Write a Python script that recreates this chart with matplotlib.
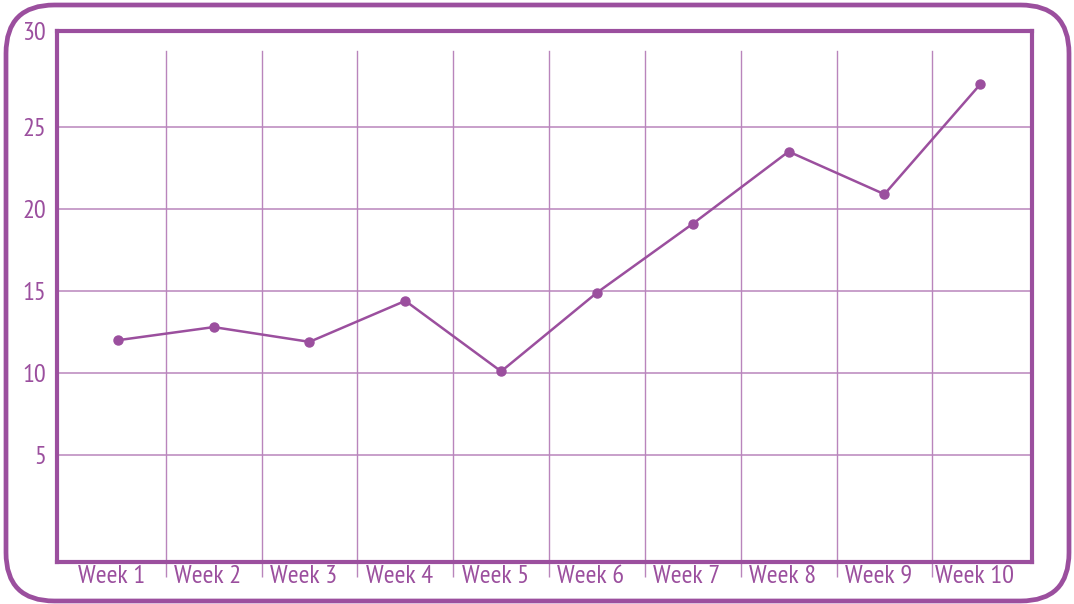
import matplotlib.pyplot as plt
import matplotlib.transforms as mtransforms
from matplotlib.patches import FancyBboxPatch

weeks = ["Week 1", "Week 2", "Week 3", "Week 4", "Week 5",
         "Week 6", "Week 7", "Week 8", "Week 9", "Week 10"]
values = [12.0, 12.8, 11.9, 14.4, 10.1, 14.9, 19.1, 23.5, 20.9, 27.6]
y_ticks = [5, 10, 15, 20, 25]

purple = "#9b4f9e"
grid_col = "#b985bc"
font = "PT Sans Narrow"

fig = plt.figure(figsize=(10.74, 6.04), dpi=100)
W, H = 1074, 604

# outer rounded frame
frame = FancyBboxPatch((6 / W, 3 / H), 1063 / W, 596 / H,
                       boxstyle="round,pad=0,rounding_size=0.045",
                       transform=fig.transFigure, fill=False,
                       edgecolor=purple, linewidth=3.4, mutation_aspect=W / H)
fig.patches.append(frame)

ax = fig.add_axes([57 / W, (H - 562) / H, (1032 - 57) / W, (562 - 31) / H])
x = list(range(len(weeks)))
ylo, yhi = -1.52, 30.85
ax.set_xlim(-0.635, 9.54)
ax.set_ylim(ylo, yhi)

# grid
for v in y_ticks:
    ax.axhline(v, color=grid_col, linewidth=1.1, zorder=1)
top_frac = (562 - 51) / (562 - 31)
for i in range(len(weeks) - 1):
    ax.axvline(i + 0.5, ymin=0, ymax=top_frac, color=grid_col, linewidth=1.0, zorder=1)

ax.plot(x, values, color=purple, linewidth=1.8, marker="o", markersize=6.5, zorder=3)

for s in ax.spines.values():
    s.set_color(purple)
    s.set_linewidth(3)

ax.set_yticks(y_ticks + [yhi])
ax.set_yticklabels([str(v) for v in y_ticks] + ["30"])
ax.tick_params(axis="y", length=0, pad=8, labelsize=19, labelcolor=purple)
for lab in ax.get_yticklabels():
    lab.set_family(font)

ax.set_xticks(x)
ax.set_xticklabels(weeks)
ax.tick_params(axis="x", length=0, pad=2, labelsize=19, labelcolor=purple)
shift = mtransforms.ScaledTranslation(-6 / 100, 0, fig.dpi_scale_trans)
for lab in ax.get_xticklabels():
    lab.set_family(font)
    lab.set_transform(lab.get_transform() + shift)
ax.set_xticks([i + 0.5 for i in range(len(weeks) - 1)], minor=True)
ax.tick_params(axis="x", which="minor", direction="out", length=11,
               width=1.0, color=grid_col)

fig.savefig("out.png", dpi=100)
